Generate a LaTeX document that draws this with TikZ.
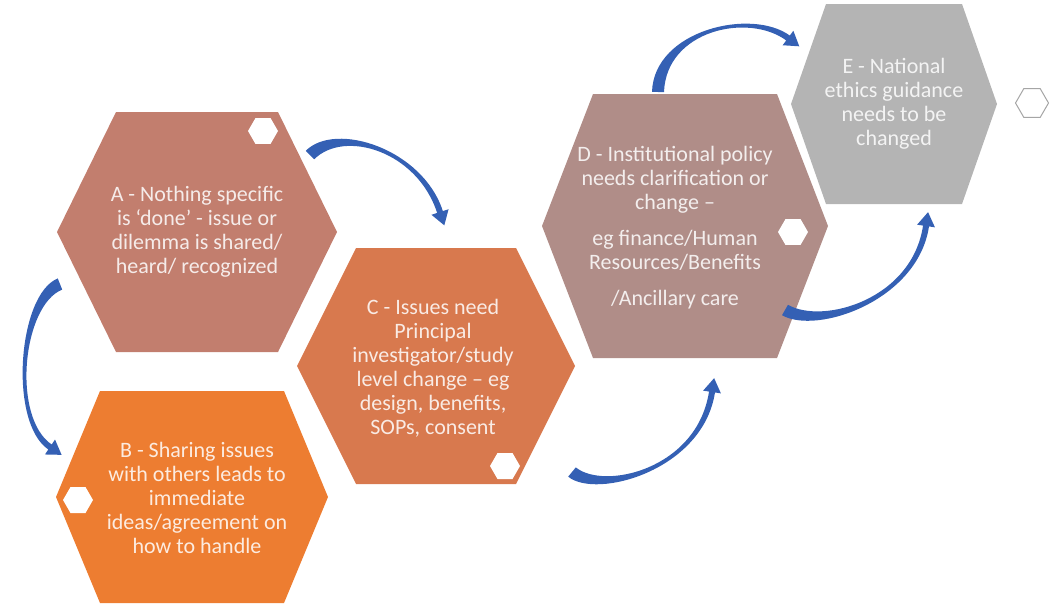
\documentclass[tikz,border=0pt]{standalone}
\usepackage{fontspec}
\setmainfont{Carlito}
\usetikzlibrary{shapes.geometric,calc}

\definecolor{cellA}{RGB}{194,126,110}
\definecolor{cellB}{RGB}{237,125,49}
\definecolor{cellC}{RGB}{216,121,78}
\definecolor{cellD}{RGB}{176,141,136}
\definecolor{cellE}{RGB}{180,180,180}
\definecolor{arcblue}{RGB}{52,96,180}
\definecolor{markgray}{RGB}{165,165,165}

% hexagon cell: name, centre x, centre y, half width, half top edge, half height, fill
\newcommand\hexcell[7]{%
    \fill[#7] (#2-#4,#3) -- (#2-#5,#3-#6) -- (#2+#5,#3-#6) -- (#2+#4,#3)
        -- (#2+#5,#3+#6) -- (#2-#5,#3+#6) -- cycle;
    \coordinate (#1) at (#2,#3);}

% tapered curved arrow: tail, control 1, control 2, neck
\newcommand\bluearc[4]{%
    \path (#1) coordinate (s) (#2) coordinate (p) (#3) coordinate (q) (#4) coordinate (e);
    \coordinate (sl) at ($(s)!6pt!90:(p)$);
    \coordinate (sr) at ($(s)!6pt!-90:(p)$);
    \coordinate (el) at ($(e)!3pt!-90:(q)$);
    \coordinate (er) at ($(e)!3pt!90:(q)$);
    \coordinate (hl) at ($(e)!9pt!-90:(q)$);
    \coordinate (hr) at ($(e)!9pt!90:(q)$);
    \coordinate (tip) at ($(e)!-14pt!(q)$);
    \fill[arcblue] (sl) .. controls ($(p)+(sl)-(s)$) and ($(q)+(el)-(e)$) .. (el)
        -- (hl) -- (tip) -- (hr) -- (er)
        .. controls ($(q)+(er)-(e)$) and ($(p)+(sr)-(s)$) .. (sr) -- cycle;}

\begin{document}
\begin{tikzpicture}[x=1pt, y=-1pt,
        celltext/.style={align=center, text=white, text opacity=.85,
            font=\fontsize{22}{24}\selectfont, inner sep=0pt},
        minihex/.style={regular polygon, regular polygon sides=6,
            minimum size=30pt, inner sep=0pt, fill=white}]
    \useasboundingbox (0,0) rectangle (1056,603);

    	%-----Cells-----
        \hexcell{A}{197}{232}{140}{81}{120}{cellA}
        \hexcell{B}{192}{497}{136}{92}{106}{cellB}
        \hexcell{C}{436}{366}{139}{80}{118}{cellC}
        \hexcell{D}{685}{226}{143}{92}{132}{cellD}
        \hexcell{E}{894}{104}{103}{68}{100}{cellE}

        % A text
        \node [celltext] (textA) at (A) {%
            A - Nothing specific \\
            is ‘done’ - issue or \\
            dilemma is shared/ \\
            heard/ recognized
        };

        % B text
        \node [celltext] (textB) at ($(B)+(5,1)$) {%
            B - Sharing issues \\
            with others leads to \\
            immediate \\
            ideas/agreement on \\
            how to handle
        };

        % C text
        \node [celltext] (textC) at ($(C)+(-3,2)$) {%
            C - Issues need \\
            Principal \\
            investigator/study \\
            level change – eg \\
            design, benefits, \\
            SOPs, consent
        };

        % D text
        \node [celltext] (textD) at ($(D)+(-10,2)$) {%
            D - Institutional policy \\
            needs clarification or \\
            change – \\[12pt]
            eg finance/Human \\
            Resources/Benefits \\[12pt]
            /Ancillary care
        };

        % E text
        \node [celltext] (textE) at (E) {%
            E - National \\
            ethics guidance \\
            needs to be \\
            changed
        };

        %-----Marks-----
        \node [minihex] (markA) at ($(A)+(66,-101)$) {};
        \node [minihex] (markB) at ($(B)+(-114,3)$) {};
        \node [minihex] (markC) at ($(C)+(69,100)$) {};
        \node [minihex] (markD) at ($(D)+(108,6)$) {};
        \node [minihex, draw=markgray, line width=1pt, minimum size=33pt] (markE) at ($(E)+(138,-1)$) {};

        %-----Arrows-----
        % A to B
        \bluearc{$(A)+(-137,52)$}{$(A)+(-177,68)$}{$(B)+(-182,-77)$}{$(B)+(-142,-50)$}
        % A to C
        \bluearc{$(A)+(113,-77)$}{$(A)+(143,-107)$}{$(C)+(-16,-216)$}{$(C)+(4,-154)$}
        % C to D
        \bluearc{$(C)+(136,106)$}{$(C)+(164,129)$}{$(D)+(15,244)$}{$(D)+(27,166)$}
        % D to E, over the top
        \bluearc{$(D)+(-27,-134)$}{$(D)+(-25,-196)$}{$(E)+(-144,-94)$}{$(E)+(-106,-66)$}
        % D to E, from below
        \bluearc{$(D)+(100,84)$}{$(D)+(135,104)$}{$(E)+(21,196)$}{$(E)+(32,122)$}

    \end{tikzpicture}
\end{document}
